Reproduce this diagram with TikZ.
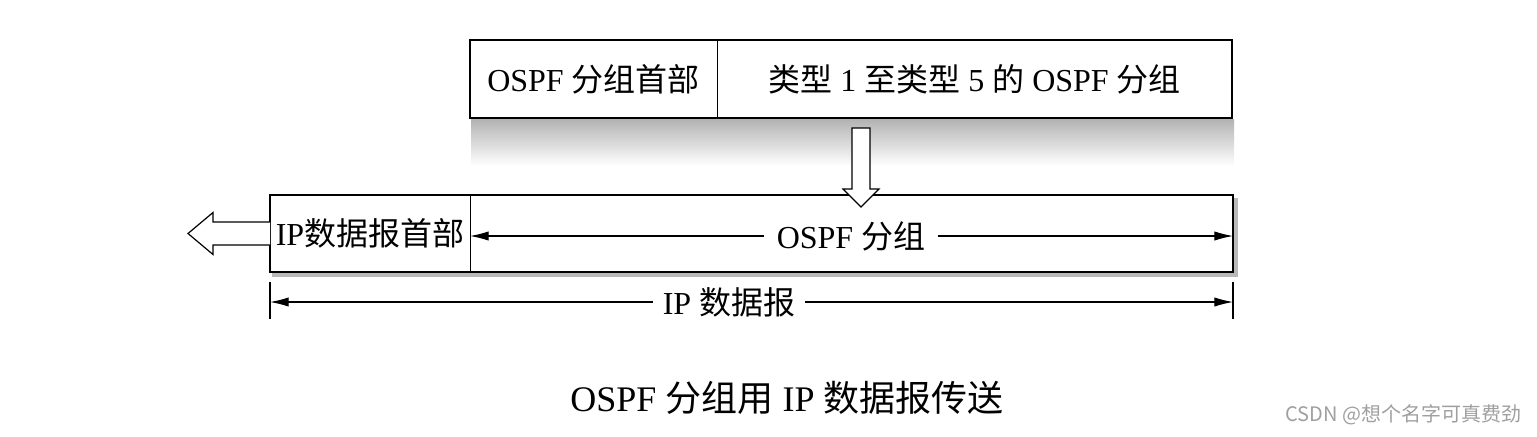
\documentclass[tikz,border=0pt]{standalone}
\usepackage{fontspec}
\setmainfont{Liberation Serif}
\newfontfamily\cjk{Noto Sans CJK SC}
\usetikzlibrary{arrows.meta}

\tikzset{
	field/.style={draw, line width=0.7pt, inner sep=0pt, outer sep=0pt, font=\fontsize{24}{28}\selectfont},
	frame/.style={line width=1.9pt},
	dimline/.style={line width=0.8pt, -{Latex[length=14pt,width=7pt]}},
	hollow/.style={draw, line width=0.9pt, fill=white, line join=miter},
	lbl/.style={inner xsep=9pt, font=\fontsize{24}{28}\selectfont}
}

\begin{document}
\begin{tikzpicture}[x=0.75pt,y=0.75pt,yscale=-1,xscale=1]
	\useasboundingbox (0,0) rectangle (1537,436);
	
	% Shadow under OSPF packet
	\shade[top color=gray!60, bottom color=white] (471,119) rectangle (1234,166);
	% Shadow of IP datagram
	\fill[gray!55] (1233,198) rectangle (1238,277);
	\fill[gray!55] (272,272) rectangle (1238,277);
	
	% Box Node
	\node[field, minimum width=185.25pt, minimum height=58.5pt] (ospfhdr) at (593.5,79) {OSPF {\cjk 分组首部}};
	% Box Node
	\node[field, minimum width=386.25pt, minimum height=58.5pt] (ospfbody) at (974.5,79) {{\cjk 类型} 1 {\cjk 至类型} 5 {\cjk 的} OSPF {\cjk 分组}};
	\draw[frame] (ospfhdr.north west) rectangle (ospfbody.south east);
	
	% Box Node
	\node[field, minimum width=150pt, minimum height=57.75pt] (iphdr) at (370,233.5) {IP{\cjk 数据报首部}};
	% Box Node
	\node[field, minimum width=572.25pt, minimum height=57.75pt] (ipbody) at (851.5,233.5) {};
	\draw[frame] (iphdr.north west) rectangle (ipbody.south east);
	
	% Hollow arrow down
	\coordinate (dntail) at (861,128);
	\coordinate (dntip) at (861,207);
	\draw[hollow] (dntail) ++(-9,0) -- ++(0,61) -- ++(-9,0) -- (dntip) -- ++(18,-18) -- ++(-9,0) -- ++(0,-61) -- cycle;
	
	% Hollow arrow left
	\coordinate (lftip) at (188,233.5);
	\draw[hollow] (iphdr.west) ++(0,-11.5) -- ++(-57,0) -- ++(0,-9.5) -- (lftip) -- ++(25,21) -- ++(0,-9.5) -- ++(57,0);
	
	% Text Node
	\node[lbl] (ospflbl) at (851,236) {OSPF {\cjk 分组}};
	% Connection
	\draw[dimline] (ospflbl.west) -- (ospflbl.west -| ipbody.west);
	\draw[dimline] (ospflbl.east) -- (ospflbl.east -| ipbody.east);
	
	% Dimension ticks
	\coordinate (tickl) at (270,282);
	\coordinate (tickr) at (1233,282);
	\draw[line width=0.8pt] (tickl) -- ++(0,37);
	\draw[line width=0.8pt] (tickr) -- ++(0,37);
	% Text Node
	\node[lbl, inner xsep=7pt] (iplbl) at (729,302) {IP {\cjk 数据报}};
	% Connection
	\draw[dimline] (iplbl.west) -- (iplbl.west -| tickl);
	\draw[dimline] (iplbl.east) -- (iplbl.east -| tickr);
	
	% Caption
	\node[font=\fontsize{27}{32}\selectfont] (caption) at (787,398) {OSPF {\cjk 分组用} IP {\cjk 数据报传送}};
	% Watermark
	\node[font=\cjk\fontsize{15}{18}\selectfont, text=gray!75, anchor=east] (mark) at (1526,415) {CSDN @想个名字可真费劲};
	
\end{tikzpicture}
\end{document}
